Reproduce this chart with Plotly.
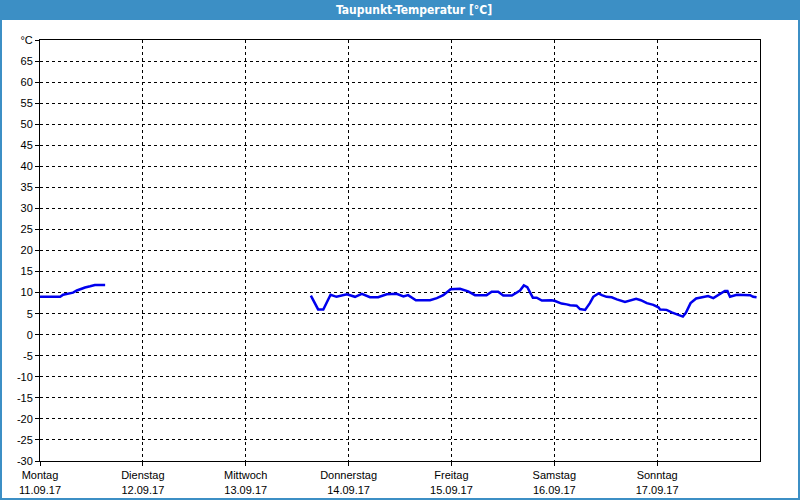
import plotly.graph_objects as go

# hours since Montag 11.09.17 00:00
seg1_hours = [0, 4.7, 5.4, 6.3, 7.7, 8.6, 9.3, 10.5, 11.7, 12.8, 15.2]
seg1_values = [9.0, 9.0, 9.5, 9.7, 10.0, 10.5, 10.8, 11.2, 11.5, 11.8, 11.8]

seg2_hours = [63.2, 64.9, 66.1, 67.8, 69.2, 71.6, 73.5, 75.1, 77.0, 78.9, 80.9, 83.2,
              84.8, 85.9, 87.7, 91.0, 92.6, 94.1, 95.8, 98.0, 99.9, 101.5, 104.2, 105.4,
              106.9, 108.1, 110.1, 112.0, 112.9, 113.7, 115.0, 115.9, 117.1, 119.4, 120.2,
              121.7, 122.9, 123.7, 125.2, 126.0, 127.2, 128.3, 129.1, 130.3, 131.1, 132.2,
              133.4, 134.6, 136.5, 137.7, 139.1, 140.2, 141.6, 143.1, 144.3, 144.7, 146.2,
              147.4, 148.6, 150.0, 150.7, 151.8, 153.1, 154.4, 155.9, 157.1, 158.3, 159.8,
              160.4, 161.0, 162.6, 165.7, 166.4, 167.2]
seg2_values = [9.3, 6.0, 6.0, 9.5, 9.0, 9.6, 9.0, 9.7, 8.9, 8.9, 9.6, 9.7,
               9.1, 9.4, 8.2, 8.2, 8.7, 9.4, 10.8, 10.9, 10.3, 9.4, 9.4, 10.2,
               10.2, 9.3, 9.3, 10.5, 11.7, 11.3, 8.8, 8.8, 8.1, 8.2, 8.0,
               7.4, 7.2, 7.0, 6.9, 6.1, 5.9, 7.5, 9.0, 9.8, 9.4, 9.0,
               8.9, 8.4, 7.8, 8.1, 8.5, 8.2, 7.5, 7.1, 6.5, 6.0, 5.9,
               5.3, 4.8, 4.3, 5.2, 7.5, 8.6, 8.9, 9.2, 8.7, 9.5, 10.4,
               10.4, 9.0, 9.5, 9.4, 9.0, 8.9]

day_ticks = [0, 24, 48, 72, 96, 120, 144]
day_labels = ["Montag<br>11.09.17", "Dienstag<br>12.09.17", "Mittwoch<br>13.09.17",
              "Donnerstag<br>14.09.17", "Freitag<br>15.09.17", "Samstag<br>16.09.17",
              "Sonntag<br>17.09.17"]
y_ticks = list(range(-30, 70, 5)) + [70]
y_labels = [str(v) for v in range(-30, 70, 5)] + ["°C"]

x = seg1_hours + [None] + seg2_hours
y = seg1_values + [None] + seg2_values

fig = go.Figure()
fig.add_trace(go.Scatter(x=x, y=y, mode="lines", line=dict(color="#0000ee", width=2.5),
                         connectgaps=False, hoverinfo="skip"))

font = dict(family="Liberation Sans", size=11, color="black")
fig.update_layout(
    width=800, height=500,
    margin=dict(l=40, r=40, t=40, b=39, autoexpand=False),
    paper_bgcolor="white", plot_bgcolor="white",
    showlegend=False,
    font=font,
    xaxis=dict(range=[0, 168], tickvals=day_ticks, ticktext=day_labels,
               showgrid=True, gridcolor="black", gridwidth=1, griddash="3px,3px",
               showline=True, linecolor="black", linewidth=1, mirror=True,
               ticks="outside", ticklen=4, tickcolor="black", zeroline=False,
               tickfont=font, automargin=False),
    yaxis=dict(range=[-30, 70], tickvals=y_ticks, ticktext=y_labels,
               showgrid=True, gridcolor="black", gridwidth=1, griddash="3px,3px",
               showline=True, linecolor="black", linewidth=1, mirror=True,
               ticks="outside", ticklen=4, tickcolor="black", zeroline=False,
               tickfont=font, automargin=False),
)

# frame border and title bar
fig.add_shape(type="rect", xref="paper", yref="paper",
              x0=-39/720, x1=759/720, y0=(461-499)/421, y1=(461-0)/421,
              line=dict(color="#3c8fc5", width=2), fillcolor="rgba(0,0,0,0)", layer="above")
fig.add_shape(type="rect", xref="paper", yref="paper",
              x0=-40/720, x1=760/720, y0=(461-20)/421, y1=(461-0)/421,
              line=dict(width=0), fillcolor="#3c8fc5", layer="above")
fig.add_annotation(xref="paper", yref="paper", x=(414-40)/720, y=(461-10)/421,
                   text="<b>Taupunkt-Temperatur [°C]</b>", showarrow=False,
                   font=dict(family="DejaVu Sans Condensed", size=12, color="white"),
                   xanchor="center", yanchor="middle")

fig.write_html("out.html", config={"displayModeBar": False},
               post_script="document.body.style.margin='0';document.body.style.overflow='hidden';")
